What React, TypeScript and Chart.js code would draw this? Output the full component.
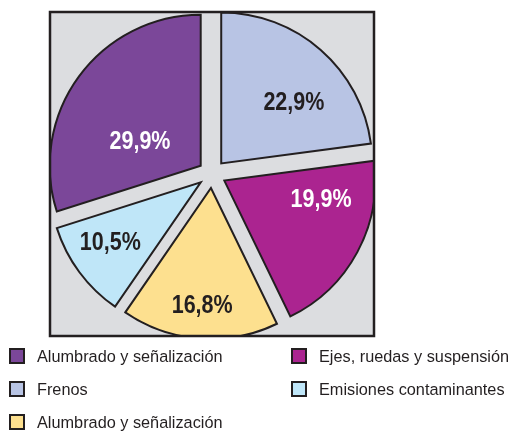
import React, { useEffect, useRef } from "react";
import { Chart, registerables } from "chart.js";

Chart.register(...registerables);

// Slices in clockwise order starting at 12 o'clock
const categories = [
  "Frenos",
  "Ejes, ruedas y suspensión",
  "Alumbrado y señalización",
  "Emisiones contaminantes",
  "Alumbrado y señalización",
];
const values = [22.9, 19.9, 16.8, 10.5, 29.9];
const valueLabels = ["22,9%", "19,9%", "16,8%", "10,5%", "29,9%"];
const colors = ["#b8c4e4", "#ab2490", "#fde08f", "#bfe6f8", "#7b4799"];
const labelColors = ["#231f20", "#ffffff", "#231f20", "#231f20", "#ffffff"];
// Legend order (two columns, filled row by row)
const legendOrder = [4, 1, 0, 3, 2];

// Label placement (style): angle shift from mid-angle (deg), radius fraction
const labelAngleShift = [7, -16, 0, 3, -11];
const labelRadius = [0.727, 0.739, 0.864, 0.808, 0.527];

const EXPLODE = 14;
const INK = "#231f20";

const explodePlugin = {
  id: "explodeBox",
  beforeDraw(chart: any) {
    const { ctx, chartArea: a } = chart;
    ctx.save();
    ctx.fillStyle = "#dcdde0";
    ctx.fillRect(a.left, a.top, a.width, a.height);
    ctx.restore();
  },
  beforeDatasetDraw(chart: any) {
    const { ctx, chartArea: a } = chart;
    const meta = chart.getDatasetMeta(0);
    ctx.save();
    ctx.beginPath();
    ctx.rect(a.left, a.top, a.width, a.height);
    ctx.clip();
    meta.data.forEach((arc: any) => {
      const mid = (arc.startAngle + arc.endAngle) / 2;
      ctx.save();
      ctx.translate(Math.cos(mid) * EXPLODE, Math.sin(mid) * EXPLODE);
      arc.draw(ctx);
      ctx.restore();
    });
    ctx.restore();
    return false;
  },
  afterDatasetsDraw(chart: any) {
    const { ctx, chartArea: a } = chart;
    const meta = chart.getDatasetMeta(0);
    ctx.save();
    const size = 25;
    const squeeze = 0.86; // condensed look
    ctx.font = `bold ${size}px "Liberation Sans", Arial, Helvetica, sans-serif`;
    ctx.textAlign = "center";
    ctx.textBaseline = "alphabetic";
    const cap = ctx.measureText("0").actualBoundingBoxAscent;
    meta.data.forEach((arc: any, i: number) => {
      const mid =
        (arc.startAngle + arc.endAngle) / 2 + (labelAngleShift[i] * Math.PI) / 180;
      const r = labelRadius[i] * arc.outerRadius;
      const x = arc.x + Math.cos(mid) * r;
      const y = arc.y + Math.sin(mid) * r;
      ctx.save();
      ctx.translate(x, y + cap / 2);
      ctx.scale(squeeze, 1);
      ctx.fillStyle = labelColors[i];
      ctx.fillText(valueLabels[i], 0, 0);
      ctx.restore();
    });
    ctx.strokeStyle = INK;
    ctx.lineWidth = 2.5;
    ctx.strokeRect(a.left + 1, a.top + 1, a.width - 2, a.height - 2);
    ctx.restore();
  },
};

export default function App() {
  const ref = useRef<HTMLCanvasElement>(null);

  useEffect(() => {
    if (!ref.current) return;
    const chart = new Chart(ref.current, {
      type: "pie",
      data: {
        labels: categories,
        datasets: [
          {
            data: values,
            backgroundColor: colors,
            borderColor: INK,
            borderWidth: 2,
            borderJoinStyle: "miter",
          } as any,
        ],
      },
      options: {
        responsive: false,
        animation: false,
        events: [],
        radius: 151,
        layout: { padding: { left: 49, top: 11, right: 133, bottom: 95 } },
        plugins: {
          legend: { display: false },
          tooltip: { enabled: false },
        },
      } as any,
      plugins: [explodePlugin],
    });
    return () => chart.destroy();
  }, []);

  return (
    <div
      style={{
        position: "fixed",
        left: 0,
        top: 0,
        width: 508,
        height: 432,
        background: "#ffffff",
        overflow: "hidden",
      }}
    >
      <canvas
        ref={ref}
        width={508}
        height={432}
        style={{ position: "absolute", left: 0, top: 0, width: 508, height: 432 }}
      />
      {legendOrder.map((idx, j) => {
        const col = j % 2;
        const row = Math.floor(j / 2);
        return (
          <div
            key={j}
            style={{
              position: "absolute",
              left: 9 + col * 282,
              top: 348 + row * 33,
              height: 16,
              display: "flex",
              alignItems: "center",
              whiteSpace: "nowrap",
            }}
          >
            <span
              style={{
                display: "inline-block",
                width: 16,
                height: 16,
                boxSizing: "border-box",
                border: `2px solid ${INK}`,
                background: colors[idx],
              }}
            />
            <span
              style={{
                marginLeft: 12,
                fontFamily: '"Liberation Sans", Arial, Helvetica, sans-serif',
                fontSize: 16.3,
                lineHeight: "16px",
                color: INK,
              }}
            >
              {categories[idx]}
            </span>
          </div>
        );
      })}
    </div>
  );
}
